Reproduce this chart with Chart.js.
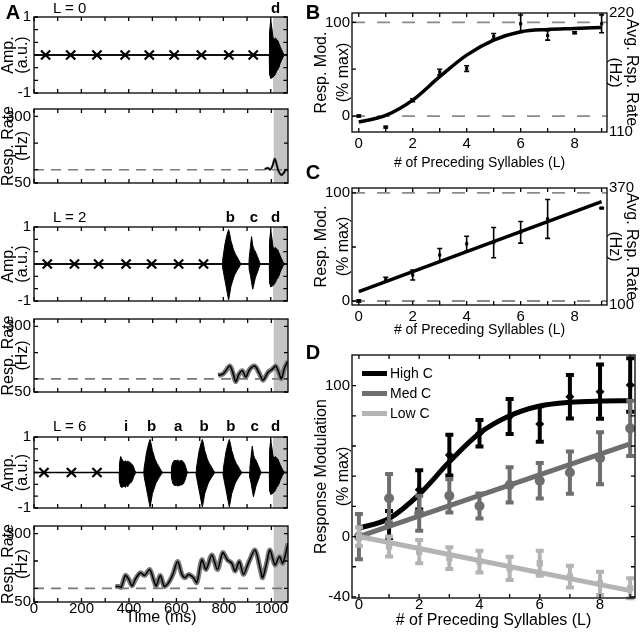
<!DOCTYPE html>
<html>
<head>
<meta charset="utf-8">
<script src="https://cdn.jsdelivr.net/npm/chart.js@4.4.1/dist/chart.umd.min.js"></script>
<style>
  body { margin: 0; background: #fff; }
  #fig { position: relative; width: 640px; height: 632px; overflow: hidden; font-family: "Liberation Sans", Arial, sans-serif; color: #000; }
  #fig canvas { position: absolute; }
  .txt { position: absolute; transform: translate(-50%, -50%); white-space: nowrap; line-height: 1; }
  .panel { font-weight: bold; font-size: 20px; }
  .syl { font-weight: bold; font-size: 15px; }
  .seq { font-size: 15px; transform: translate(0, -50%); }
  #legendD { position: absolute; left: 362px; top: 363px; font-size: 14px; line-height: 1; }
  #legendD div { display: flex; align-items: center; height: 20px; }
  #legendD span.sw { display: inline-block; width: 25px; height: 5px; margin-right: 3px; }
</style>
</head>
<body>
<div id="fig"></div>
<script>
// ---------- panel A: three example trials ----------
const timeMax = 1070;
const shadeStart = 1010;
const timeTicks = [0, 100, 200, 300, 400, 500, 600, 700, 800, 900, 1000];
const timeLabels = [0, 200, 400, 600, 800, 1000];
const ampTicks = [-1, -2 / 3, -1 / 3, 0, 1 / 3, 2 / 3, 1];
const ampLabels = [-1, 1];
const rateTicks = [50, 100, 200, 300];
const rateLabels = [50, 300];
const rateBaseline = 100;
const envStep = 5; // ms between envelope samples

// amplitude envelope of each syllable type (upper / lower edge), one sample per 5 ms
const envTop = {
  i: [0.25, 0.45, 0.38, 0.32, 0.30, 0.33, 0.30, 0.32, 0.30, 0.28, 0.25, 0.22, 0.15, 0.05],
  b: [0.12, 0.33, 0.55, 0.70, 0.83, 0.93, 0.80, 0.62, 0.52, 0.40, 0.32, 0.25, 0.20, 0.14, 0.08, 0.02],
  a: [0.15, 0.28, 0.33, 0.34, 0.33, 0.35, 0.33, 0.32, 0.34, 0.33, 0.30, 0.25, 0.15, 0.03],
  c: [0.15, 0.45, 0.74, 0.50, 0.40, 0.35, 0.28, 0.20, 0.12, 0.03],
  d: [0.60, 0.92, 0.70, 0.45, 0.42, 0.45, 0.40, 0.38, 0.30, 0.22, 0.15, 0.08, 0.02]
};
const envBottom = {
  i: [-0.25, -0.40, -0.42, -0.40, -0.38, -0.42, -0.36, -0.40, -0.33, -0.30, -0.28, -0.22, -0.12, -0.05],
  b: [-0.10, -0.28, -0.45, -0.62, -0.80, -0.97, -0.80, -0.60, -0.50, -0.40, -0.30, -0.24, -0.18, -0.13, -0.08, -0.02],
  a: [-0.15, -0.30, -0.35, -0.37, -0.36, -0.38, -0.37, -0.36, -0.35, -0.34, -0.32, -0.25, -0.15, -0.03],
  c: [-0.15, -0.30, -0.50, -0.68, -0.55, -0.40, -0.30, -0.22, -0.12, -0.03],
  d: [-0.50, -0.62, -0.60, -0.58, -0.55, -0.50, -0.42, -0.38, -0.32, -0.22, -0.15, -0.08, -0.02]
};

const sylL0 = ['d'];
const onsetL0 = [995];
const silentL0 = [49, 155, 266, 385, 487, 592, 707, 823, 926];
const sylL2 = ['b', 'c', 'd'];
const onsetL2 = [797, 909, 995];
const silentL2 = [56, 171, 273, 389, 497, 611, 716];
const sylL6 = ['i', 'b', 'a', 'b', 'b', 'c', 'd'];
const onsetL6 = [361, 465, 581, 686, 800, 912, 995];
const silentL6 = [42, 158, 266];

const rateTimeL0 = [972, 985, 995, 1005, 1014, 1022, 1030, 1042, 1052, 1062, 1070];
const rateL0 = [102, 106, 100, 115, 141, 120, 95, 80, 88, 100, 97];
const rateTimeL2 = [776, 797, 825, 839, 850, 864, 878, 892, 909, 930, 948, 965, 986, 1004, 1018, 1031, 1042, 1056, 1070];
const rateL2 = [113, 119, 149, 119, 89, 119, 131, 107, 137, 149, 123, 95, 125, 137, 149, 125, 101, 143, 167];
const rateTimeL6 = [343, 357, 367, 385, 399, 413, 427, 448, 466, 487, 504, 515, 532, 549, 567, 585, 605, 623, 637, 651,
  672, 686, 707, 725, 749, 773, 795, 815, 833, 847, 865, 882, 903, 931, 952, 963, 980, 994, 1015, 1034, 1048, 1070];
const rateL6 = [106, 107, 104, 147, 133, 109, 133, 157, 147, 169, 131, 109, 147, 107, 121, 151, 198, 151, 139, 151,
  139, 121, 204, 169, 222, 169, 230, 204, 192, 163, 198, 151, 192, 240, 175, 139, 192, 240, 186, 216, 192, 264];

// ---------- panels B-D: modulation vs. number of preceding syllables ----------
const nPre = [0, 1, 2, 3, 4, 5, 6, 7, 8, 9];
const nTicks = [0, 1, 2, 3, 4, 5, 6, 7, 8, 9];
const nLabels = [0, 2, 4, 6, 8];
const modTicks = [0, 50, 100];
const modLabels = [0, 100];

const bMean = [0, -11.8, 16.8, 47, 50.7, 85, 98.5, 86, 89, 98.5];
const bErr = [1, 1, 1.5, 3, 3, 3.2, 9.3, 5, 1, 9.5];
const bFit = [-6.4, 0.7, 17, 42, 65, 81, 90, 92.5, 93.5, 94.6];
const bRate = [110, 220];

const cMean = [0, 20, 24, 42.6, 53, 54, 63.6, 76, null, 86];
const cErr = [1, 2, 4.6, 6, 7, 14, 10, 18, 0, 0.5];
const cFitL = [0, 9];
const cFit = [8.6, 92];
const cRate = [100, 370];

const dTicks = [-40, -20, 0, 20, 40, 60, 80, 100];
const dLabels = [-40, 0, 100];
const highMean = [0, 8, 31, 54, 68.4, 79.5, 74.6, 92.7, 96, 100.4];
const highErr = [0, 9, 13, 13.5, 8.8, 11.6, 11.8, 14.4, 18, 17.7];
const highFit = [5.5, 12, 28, 49.5, 68.4, 80, 86.5, 89, 89.8, 90];
const medMean = [0, 25.4, 15.5, 27, 20.3, 34.2, 37, 42.4, 51.9, 71.7];
const medErr = [15, 16, 11.6, 11, 8.3, 11.7, 11.8, 14, 17.3, 18.3];
const medFit = [0, 61.4];
const lowMean = [0, -6.6, -10, -14.3, -16.6, -21, -17.7, -26.5, -31, -34.2];
const lowErr = [6, 6.6, 7.7, 7.2, 7.2, 7.7, 8.3, 7.2, 7.7, 6.6];
const lowFit = [0, -35.8];
const dFitL = [0, 9];

// ---------- plugins ----------
// MATLAB style box with inward ticks, optional shading and reference lines
const framePlugin = {
  id: 'frame',
  beforeDatasetsDraw(chart, args, opts) {
    const { ctx, chartArea: a, scales } = chart;
    ctx.save();
    if (opts.shadeFrom != null) {
      const x0 = scales.x.getPixelForValue(opts.shadeFrom);
      ctx.fillStyle = '#c4c4c4';
      ctx.fillRect(x0, a.top, a.right - x0, a.bottom - a.top);
    }
    (opts.refLines || []).forEach(r => {
      const y = scales.y.getPixelForValue(r.value);
      ctx.strokeStyle = r.color;
      ctx.lineWidth = r.width;
      ctx.setLineDash(r.dash || []);
      ctx.beginPath();
      ctx.moveTo(a.left, y);
      ctx.lineTo(a.right, y);
      ctx.stroke();
    });
    ctx.restore();
  },
  afterDatasetsDraw(chart, args, opts) {
    const { ctx, chartArea: a, scales } = chart;
    const len = 4;
    ctx.save();
    ctx.strokeStyle = '#000';
    ctx.lineWidth = 1.3;
    ctx.setLineDash([]);
    ctx.strokeRect(a.left, a.top, a.right - a.left, a.bottom - a.top);
    ctx.beginPath();
    scales.x.ticks.forEach(t => {
      const x = scales.x.getPixelForValue(t.value);
      ctx.moveTo(x, a.bottom); ctx.lineTo(x, a.bottom - len);
      ctx.moveTo(x, a.top); ctx.lineTo(x, a.top + len);
    });
    scales.y.ticks.forEach(t => {
      const y = scales.y.getPixelForValue(t.value);
      ctx.moveTo(a.left, y); ctx.lineTo(a.left + len, y);
      if (opts.mirrorY) { ctx.moveTo(a.right, y); ctx.lineTo(a.right - len, y); }
    });
    ctx.stroke();
    ctx.restore();
  }
};

// vertical error bars drawn under the markers of any dataset that carries "errors"
const errorBarPlugin = {
  id: 'errorBars',
  beforeDatasetDraw(chart, args) {
    const ds = chart.data.datasets[args.index];
    if (!ds.errors) return;
    const { ctx } = chart;
    const xs = chart.scales.x, ys = chart.scales.y;
    ctx.save();
    ctx.strokeStyle = ds.errorColor;
    ctx.lineWidth = ds.errorWidth;
    ds.data.forEach((p, i) => {
      if (p.y == null || !ds.errors[i]) return;
      const e = ds.errors[i];
      const x = xs.getPixelForValue(p.x);
      const y1 = ys.getPixelForValue(p.y - e);
      const y2 = ys.getPixelForValue(p.y + e);
      const c = ds.errorCap / 2;
      ctx.beginPath();
      ctx.moveTo(x, y1); ctx.lineTo(x, y2);
      ctx.moveTo(x - c, y1); ctx.lineTo(x + c, y1);
      ctx.moveTo(x - c, y2); ctx.lineTo(x + c, y2);
      ctx.stroke();
    });
    ctx.restore();
  }
};

Chart.register(framePlugin, errorBarPlugin);
Chart.defaults.font.family = '"Liberation Sans", Arial, sans-serif';
Chart.defaults.color = '#000';
Chart.defaults.animation = false;
Chart.defaults.events = [];
Chart.defaults.plugins.legend.display = false;
Chart.defaults.plugins.tooltip.enabled = false;

// ---------- helpers ----------
const fig = document.getElementById('fig');

function place(box) {
  const c = document.createElement('canvas');
  c.width = box.w; c.height = box.h;
  c.style.left = box.left + 'px';
  c.style.top = box.top + 'px';
  fig.appendChild(c);
  return c;
}

function addText(text, x, y, cls) {
  const d = document.createElement('div');
  d.className = 'txt ' + cls;
  d.textContent = text;
  d.style.left = x + 'px';
  d.style.top = y + 'px';
  fig.appendChild(d);
  return d;
}

function axis(o) {
  return {
    type: 'linear',
    position: o.position || 'left',
    min: o.min, max: o.max,
    grid: { display: false, drawTicks: false },
    border: { display: false },
    afterBuildTicks: s => { s.ticks = o.ticks.map(v => ({ value: v })); },
    afterFit: s => { if (s.isHorizontal()) s.height = o.size; else s.width = o.size; },
    ticks: {
      display: !!o.labels, autoSkip: false, maxRotation: 0,
      padding: o.pad == null ? 3 : o.pad,
      font: { size: o.fontSize || 14 },
      callback: v => (o.labels || []).some(l => Math.abs(l - v) < 1e-9) ? String(v) : ''
    },
    title: o.title ? {
      display: true, text: o.title,
      font: { size: o.titleSize || 16, lineHeight: o.titleLh || 1.2 },
      padding: o.titlePad || { top: 0, bottom: 0 }
    } : { display: false }
  };
}

const pts = (xs, ys) => xs.map((x, i) => ({ x: x, y: ys[i] }));

function envelope(names, onsets, table) {
  const out = [{ x: 0, y: 0 }];
  names.forEach((n, k) => {
    const vals = table[n];
    out.push({ x: onsets[k] - 1, y: 0 });
    vals.forEach((v, i) => out.push({ x: onsets[k] + i * envStep, y: v }));
    out.push({ x: onsets[k] + vals.length * envStep, y: 0 });
  });
  out.push({ x: timeMax, y: 0 });
  return out;
}

function timeAxis(box, area, showTime) {
  return axis({
    position: 'bottom', min: 0, max: timeMax, ticks: timeTicks,
    labels: showTime ? timeLabels : null,
    size: showTime ? box.top + box.h - area.bottom : 0,
    fontSize: 15, pad: -2,
    title: showTime ? 'Time (ms)' : null, titlePad: { top: 0, bottom: 5 }
  });
}

function ampChart(box, area, names, onsets, silent, labelY) {
  const chart = new Chart(place(box), {
    type: 'line',
    data: {
      datasets: [
        { data: envelope(names, onsets, envTop), borderColor: '#000', backgroundColor: '#000', borderWidth: 1, pointRadius: 0, fill: '+1' },
        { data: envelope(names, onsets, envBottom), borderColor: '#000', borderWidth: 1, pointRadius: 0, fill: false },
        { data: silent.map(t => ({ x: t, y: 0 })), showLine: false, pointStyle: 'crossRot', pointRadius: 6.5, borderWidth: 2.2, borderColor: '#000' }
      ]
    },
    options: {
      responsive: false,
      layout: { padding: { top: area.top - box.top, right: box.left + box.w - area.right, bottom: box.top + box.h - area.bottom, left: 0 } },
      scales: {
        x: timeAxis(box, area, false),
        y: axis({ min: -1, max: 1, ticks: ampTicks, labels: ampLabels, size: area.left - box.left, fontSize: 15,
          title: ['Amp.', '(a.u.)'], titleLh: 0.85, titlePad: { top: 2, bottom: 0 } })
      },
      plugins: {
        frame: { shadeFrom: shadeStart, mirrorY: true, refLines: [{ value: 0, color: '#000', width: 1.3 }] }
      }
    }
  });
  names.forEach((n, k) => {
    const t = onsets[k] + 0.4 * envTop[n].length * envStep;
    addText(n, box.left + chart.scales.x.getPixelForValue(t), labelY, 'syl');
  });
  return chart;
}

function rateChart(box, area, times, vals, band, showTime) {
  return new Chart(place(box), {
    type: 'line',
    data: {
      datasets: [
        { data: pts(times, vals), borderColor: '#000', borderWidth: 1.5, pointRadius: 0, tension: 0.3, order: 1 },
        { data: pts(times, vals), borderColor: '#7a7a7a', borderWidth: band, pointRadius: 0, tension: 0.3, order: 2 }
      ]
    },
    options: {
      responsive: false,
      layout: { padding: { top: area.top - box.top, right: box.left + box.w - area.right, bottom: showTime ? 0 : box.top + box.h - area.bottom, left: 0 } },
      scales: {
        x: timeAxis(box, area, showTime),
        y: axis({ min: 50, max: 328, ticks: rateTicks, labels: rateLabels, size: area.left - box.left, fontSize: 15,
          title: ['Resp. Rate', '(Hz)'], titleLh: 0.85, titlePad: { top: 2, bottom: 0 } })
      },
      plugins: {
        frame: { shadeFrom: shadeStart, mirrorY: true, refLines: [{ value: rateBaseline, color: '#7a7a7a', width: 1.6, dash: [10, 7] }] }
      }
    }
  });
}

// ---------- panel A ----------
ampChart({ left: 0, top: 5, w: 296, h: 100 }, { left: 34, top: 15, right: 288, bottom: 95 }, sylL0, onsetL0, silentL0, 7);
rateChart({ left: 0, top: 97, w: 296, h: 98 }, { left: 34, top: 107, right: 288, bottom: 185 }, rateTimeL0, rateL0, 2.5, false);
ampChart({ left: 0, top: 215, w: 296, h: 98 }, { left: 34, top: 225, right: 288, bottom: 303 }, sylL2, onsetL2, silentL2, 216);
rateChart({ left: 0, top: 307, w: 296, h: 97 }, { left: 34, top: 317, right: 288, bottom: 394 }, rateTimeL2, rateL2, 5, false);
ampChart({ left: 0, top: 425, w: 296, h: 95 }, { left: 34, top: 435, right: 288, bottom: 510 }, sylL6, onsetL6, silentL6, 425);
rateChart({ left: 0, top: 514, w: 296, h: 118 }, { left: 34, top: 524, right: 288, bottom: 602 }, rateTimeL6, rateL6, 5, true);

addText('L = 0', 53, 7, 'seq');
addText('L = 2', 53, 216, 'seq');
addText('L = 6', 53, 425, 'seq');

// ---------- panels B and C ----------
function fitPanel(box, area, yMin, yMax, rateRange, fitX, fitY, mean, err, fitWidth) {
  return new Chart(place(box), {
    type: 'line',
    data: {
      datasets: [
        { data: pts(fitX, fitY), borderColor: '#000', borderWidth: fitWidth, pointRadius: 0, cubicInterpolationMode: 'monotone', order: 2 },
        { data: pts(nPre, mean), showLine: false, pointStyle: 'rect', pointRadius: 2.2, backgroundColor: '#000', borderColor: '#000', borderWidth: 0,
          errors: err, errorColor: '#000', errorWidth: 1.6, errorCap: 5, order: 1 }
      ]
    },
    options: {
      responsive: false,
      layout: { padding: { top: area.top - box.top, right: 0, bottom: 0, left: 0 } },
      scales: {
        x: axis({ position: 'bottom', min: -0.25, max: 9.2, ticks: nTicks, labels: nLabels, size: box.top + box.h - area.bottom,
          fontSize: 15, title: '# of Preceding Syllables (L)', titleSize: 14 }),
        y: axis({ min: yMin, max: yMax, ticks: modTicks, labels: modLabels, size: area.left - box.left, fontSize: 15, pad: 2,
          title: ['Resp. Mod.', '(% max)'], titleLh: 1.4 }),
        y2: axis({ position: 'right', min: rateRange[0], max: rateRange[1], ticks: rateRange, labels: rateRange,
          size: box.left + box.w - area.right, fontSize: 15, pad: 2, title: ['Avg. Rsp. Rate', '(Hz)'], titleLh: 1.05 })
      },
      plugins: {
        frame: { mirrorY: false, refLines: [
          { value: 0, color: '#8a8a8a', width: 1.8, dash: [13, 12] },
          { value: 100, color: '#8a8a8a', width: 1.8, dash: [13, 12] }
        ] }
      }
    }
  });
}

fitPanel({ left: 310, top: 0, w: 330, h: 172 }, { left: 352, top: 13, right: 607, bottom: 132 },
  -17, 110, bRate, nPre, bFit, bMean, bErr, 3.5);
fitPanel({ left: 310, top: 175, w: 330, h: 164 }, { left: 352, top: 188, right: 607, bottom: 305 },
  -3.7, 104.6, cRate, cFitL, cFit, cMean, cErr, 3.5);

// ---------- panel D ----------
const dBox = { left: 310, top: 340, w: 330, h: 292 };
const dArea = { left: 352, top: 355, right: 635, bottom: 598 };
const groups = [
  { label: 'High C', color: '#000000', mean: highMean, err: highErr, fitX: nPre, fit: highFit, style: 'rectRot', r: 4.5 },
  { label: 'Med C', color: '#6e6e6e', mean: medMean, err: medErr, fitX: dFitL, fit: medFit, style: 'circle', r: 5 },
  { label: 'Low C', color: '#b4b4b4', mean: lowMean, err: lowErr, fitX: dFitL, fit: lowFit, style: 'rect', r: 4.5 }
];
const dSets = [];
groups.forEach((g, k) => {
  dSets.push({ label: g.label, legend: true, data: pts(g.fitX, g.fit), borderColor: g.color, borderWidth: 5, pointRadius: 0,
    cubicInterpolationMode: 'monotone', order: 60 - k * 20 });
  dSets.push({ data: pts(nPre, g.mean), showLine: false, pointStyle: g.style, pointRadius: g.r, backgroundColor: g.color, borderColor: g.color,
    borderWidth: 0, errors: g.err, errorColor: g.color, errorWidth: 4, errorCap: 8, order: 50 - k * 20 });
});
new Chart(place(dBox), {
  type: 'line',
  data: { datasets: dSets },
  options: {
    responsive: false,
    layout: { padding: { top: dArea.top - dBox.top, right: dBox.left + dBox.w - dArea.right, bottom: 0, left: 0 } },
    scales: {
      x: axis({ position: 'bottom', min: -0.23, max: 9.16, ticks: nTicks, labels: nLabels, size: dBox.top + dBox.h - dArea.bottom,
        fontSize: 15, pad: -2, title: '# of Preceding Syllables (L)', titleSize: 16, titlePad: { top: 0, bottom: 2 } }),
      y: axis({ min: -40.7, max: 120.3, ticks: dTicks, labels: dLabels, size: dArea.left - dBox.left, fontSize: 15, pad: 2,
        title: ['Response Modulation', '(% max)'], titleLh: 1.4 })
    },
    plugins: { frame: { mirrorY: true } }
  }
});

// legend for D
const leg = document.createElement('div');
leg.id = 'legendD';
dSets.filter(d => d.legend).forEach(d => {
  const row = document.createElement('div');
  const sw = document.createElement('span');
  sw.className = 'sw';
  sw.style.background = d.borderColor;
  const tx = document.createElement('span');
  tx.textContent = d.label;
  row.appendChild(sw);
  row.appendChild(tx);
  leg.appendChild(row);
});
fig.appendChild(leg);

// panel letters
addText('A', 13, 12, 'panel');
addText('B', 313, 12, 'panel');
addText('C', 313, 172, 'panel');
addText('D', 313, 352, 'panel');
</script>
</body>
</html>
